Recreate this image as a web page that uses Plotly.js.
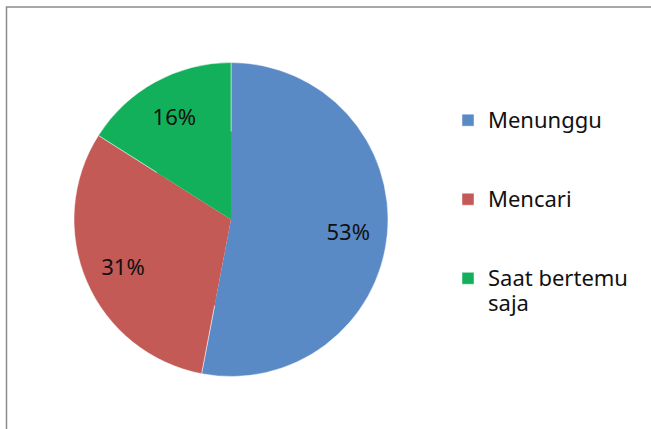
<!DOCTYPE html>
<html>
<head>
<meta charset="utf-8">
<script src="https://cdn.plot.ly/plotly-3.0.1.min.js"></script>
<style>html,body{margin:0;padding:0;background:#fff;}#chart{width:651px;height:429px;}</style>
</head>
<body>
<div id="chart"></div>
<script>
var categories = ["Menunggu", "Mencari", "Saat bertemu<br>saja"];
var values = [53, 31, 16];
var colors = ["#5A8AC6", "#C35A56", "#12B05A"];

var legendLabels = categories.map(function (c) {
  var lines = c.split("<br>").length;
  var pad = "";
  for (var i = lines; i < 3; i++) pad += "<br> ";
  return '<span style="font-size:22px">' + c + '</span>' + pad;
});

var W = 651, H = 429;
var cx = 231, cy = 219.5, r = 157;
var hole = 0.5;
var rIn = r * 0.56;

function dom(rad) {
  return { x: [(cx - rad) / W, (cx + rad) / W], y: [(H - cy - rad) / H, (H - cy + rad) / H] };
}

var data = [
  {
    type: "pie",
    labels: legendLabels,
    values: values,
    sort: false,
    direction: "clockwise",
    rotation: 0,
    hole: hole,
    marker: { colors: colors, line: { color: "rgba(255,255,255,0.6)", width: 0.8 } },
    textinfo: "percent",
    texttemplate: "%{percent:.0%}",
    textposition: "inside",
    insidetextorientation: "horizontal",
    textfont: { family: "Noto Sans", size: 22, color: "#111111" },
    domain: dom(r),
    hoverinfo: "label+percent"
  },
  {
    type: "pie",
    labels: legendLabels,
    values: values,
    sort: false,
    direction: "clockwise",
    rotation: 0,
    marker: { colors: colors, line: { width: 0 } },
    textinfo: "none",
    showlegend: false,
    domain: dom(rIn),
    hoverinfo: "skip"
  }
];

var layout = {
  width: W, height: H,
  margin: { l: 0, r: 0, t: 0, b: 0 },
  paper_bgcolor: "#ffffff",
  font: { family: "Noto Sans", color: "#111111" },
  showlegend: true,
  legend: {
    x: 448 / W, y: 1 - 101 / H, xanchor: "left", yanchor: "top",
    valign: "top",
    font: { family: "Noto Sans", size: 19.5, color: "#111111" },
    bgcolor: "rgba(0,0,0,0)"
  },
  shapes: [{
    type: "rect", xref: "paper", yref: "paper",
    x0: 6.5 / W, x1: 1.05, y0: -0.05, y1: 1 - 7 / H,
    line: { color: "#8c8c8c", width: 1.5 }, fillcolor: "rgba(0,0,0,0)", layer: "below"
  }]
};

Plotly.newPlot("chart", data, layout, { displayModeBar: false, staticPlot: true });
</script>
</body>
</html>
